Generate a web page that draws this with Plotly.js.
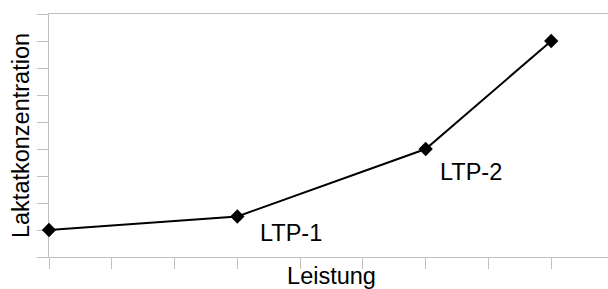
<!DOCTYPE html>
<html>
<head>
<meta charset="utf-8">
<script src="https://cdn.plot.ly/plotly-3.0.1.min.js"></script>
<style>
html,body{margin:0;padding:0;overflow:hidden;background:#fff;}
#chart{width:620px;height:289px;}
</style>
</head>
<body>
<div id="chart"></div>
<script>
// Data
const leistung = [0, 3, 6, 8];
const laktat = [1, 1.5, 4, 8];
const pointLabels = ["", "LTP-1", "LTP-2", ""];
const xTitle = "Leistung";
const yTitle = "Laktatkonzentration";
const tickVals = [0, 1, 2, 3, 4, 5, 6, 7, 8, 9];

const FONT = "Liberation Sans, Arial, sans-serif";
const labelShift = {"LTP-1": [54, -16], "LTP-2": [45, -23]};

const annotations = [];
pointLabels.forEach((t, i) => {
  if (!t) return;
  annotations.push({
    x: leistung[i], y: laktat[i], xref: "x", yref: "y",
    text: t, showarrow: false,
    xshift: labelShift[t][0], yshift: labelShift[t][1],
    font: {family: FONT, size: 23.5, color: "#000"}
  });
});

const trace = {
  x: leistung, y: laktat, type: "scatter", mode: "lines+markers",
  cliponaxis: false,
  line: {color: "#000", width: 2},
  marker: {symbol: "diamond", size: 11, color: "#000"},
  hoverinfo: "none"
};

const axisCommon = {
  showline: true, linecolor: "#c0c0c0", linewidth: 1,
  ticks: "outside", ticklen: 11, tickwidth: 1, tickcolor: "#c0c0c0",
  showticklabels: false, showgrid: false, zeroline: false,
  tickmode: "array", tickvals: tickVals, fixedrange: true,
  layer: "below traces"
};

const layout = {
  width: 620, height: 289,
  margin: {l: 49, r: 6, t: 14, b: 32},
  paper_bgcolor: "#fff", plot_bgcolor: "#fff",
  showlegend: false,
  font: {family: FONT, color: "#000"},
  xaxis: Object.assign({}, axisCommon, {
    range: [0, 9], mirror: true,
    title: {text: xTitle, font: {family: FONT, size: 23.5, color: "#000"}, standoff: 1}
  }),
  yaxis: Object.assign({}, axisCommon, {
    range: [0, 9],
    title: {text: yTitle, font: {family: FONT, size: 23.5, color: "#000"}, standoff: 0}
  }),
  annotations: annotations
};

Plotly.newPlot("chart", [trace], layout, {staticPlot: true, displayModeBar: false});
</script>
</body>
</html>
